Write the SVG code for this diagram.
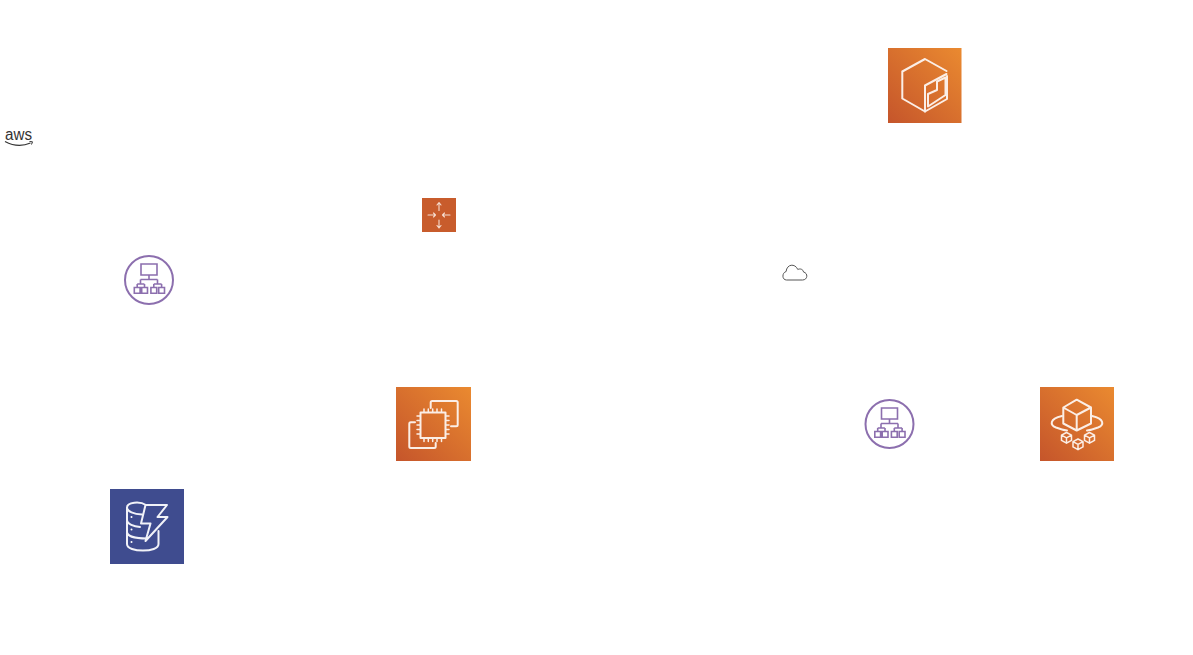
<svg xmlns="http://www.w3.org/2000/svg" width="1193" height="655" viewBox="0 0 1193 655">
<style>
.ln{fill:none;stroke:#fbeee6;stroke-width:2;stroke-linejoin:round;stroke-linecap:round}
.ln2{fill:none;stroke:#fbeee6;stroke-width:1.5;stroke-linejoin:round;stroke-linecap:round}
.ar{fill:none;stroke:#f6ddd0;stroke-width:1.1;stroke-linejoin:round;stroke-linecap:round}
.db{fill:none;stroke:#f1f2f8;stroke-width:2;stroke-linejoin:round;stroke-linecap:round}
.pu{fill:none;stroke:#8c6fae;stroke-width:2;stroke-linejoin:round}
.pu2{fill:none;stroke:#8c6fae;stroke-width:1.6;stroke-linejoin:miter}
</style>
<defs>
<linearGradient id="or" x1="0" y1="1" x2="1" y2="0"><stop offset="0" stop-color="#c5552b"/><stop offset="1" stop-color="#ea8a30"/></linearGradient>
<g id="alb">
<circle cx="149" cy="280" r="24" class="pu"/>
<path class="pu2" d="M141 264h16v11h-16zM149 275v4.500M140.500 279.500h17M140.500 279.500v4.500M157.500 279.500v4.500M137.200 284h7.200M153.800 284h7.800M137.200 284v3.500M144.500 284v3.500M153.800 284v3.500M161.600 284v3.500"/>
<path class="pu2" d="M134.300 287.500h5.800v5.800h-5.800zM141.700 287.500h5.800v5.800h-5.800zM150.900 287.500h5.800v5.800h-5.800zM158.700 287.500h5.800v5.800h-5.800z"/>
</g>
<g id="mini"><path class="ln2" d="M0 -5l5 2.700v5.200l-5 2.800l-5 -2.800v-5.200zM-5 -2.300l5 2.700l5 -2.700M0 .4v5.300"/></g>
</defs>
<g id="connectors"/>
<g id="aws-logo">
<text x="18.500" y="140" font-family="'Liberation Sans',Arial,sans-serif" font-size="16" fill="#333" text-anchor="middle" textLength="27" lengthAdjust="spacingAndGlyphs">aws</text>
<path d="M5 141.500Q18 148.500 30.500 143" fill="none" stroke="#333" stroke-width="1.200"/>
<path d="M29.500 141.500l3 .3l-1 2.700" fill="none" stroke="#333" stroke-width="1"/>
</g>
<g id="container-service">
<rect x="888" y="48" width="73.500" height="75" fill="url(#or)"/>
<path class="ln" d="M946.500 71L925 59L902.300 71.500V98.500L925 111.500V85.500L946.500 74"/>
<path class="ln" d="M925 111.500L947 99V76M928 106.500V94L937 90V81.500L945.500 77.500V95L928 106.500"/>
</g>
<g id="router">
<rect x="422" y="198" width="34" height="34" fill="#c85c2c"/>
<path class="ar" d="M439 202.500v8M437 205l2 -2.500l2 2.500M439 228v-8M437 225.500l2 2.500l2 -2.500M428 215h7.500M433.500 213l2 2l-2 2M450 215h-7.500M444.500 213l-2 2l2 2"/>
</g>
<g id="load-balancer-1"><use href="#alb"/></g>
<g id="cloud">
<path d="M786.500 280h16c5.300 0 5.800 -7 1 -8c-.3 -2.600 -3.300 -3.800 -5.700 -2.500c-2.800 -6.500 -11 -5.500 -11.700 2c-4.300 1.200 -4.300 8.500 .4 8.500z" fill="none" stroke="#555" stroke-width="1"/>
</g>
<g id="compute">
<rect x="396" y="387" width="75" height="74" fill="url(#or)"/>
<rect x="420.500" y="412.500" width="25" height="25.500" class="ln"/>
<path class="ln" d="M430.700 408V402.500Q430.700 401 432.200 401H456.200Q457.700 401 457.700 402.500V424.800Q457.700 426.300 456.200 426.300H451M415 422.300H410.800Q409.300 422.300 409.300 423.800V446.500Q409.300 448 410.800 448H434.200Q435.700 448 435.700 446.500V443"/>
<path class="ln2" d="M424 409v3M428.300 409v3M432.700 409v3M437 409v3M441.500 409v3M424 438.500v3M428.300 438.500v3M432.700 438.500v3M437 438.500v3M441.500 438.500v3M417 416h3M417 420.500h3M417 425h3M417 429.500h3M417 434h3M446 416h3M446 420.500h3M446 425h3M446 429.500h3M446 434h3"/>
</g>
<g id="load-balancer-2"><use href="#alb" x="740.500" y="144"/></g>
<g id="fargate">
<rect x="1040" y="387" width="74" height="74" fill="url(#or)"/>
<path class="ln" d="M1076.700 399.700L1091 407.500V423.500L1076.700 430.500L1063.300 423.500V407.500zM1063.300 407.500L1076.700 415L1091 407.500M1076.700 415V430.500"/>
<path class="ln" d="M1062 416C1049 419 1050 425 1056 427.500C1060 429 1063 430 1067 430.500M1087 430.500C1091 430 1094 429 1098 427.500C1104 425 1105 419 1092 416"/>
<use href="#mini" x="1066.500" y="437.500"/>
<use href="#mini" x="1078" y="444"/>
<use href="#mini" x="1089.500" y="437.500"/>
</g>
<g id="dynamodb">
<rect x="110" y="489" width="74" height="75" fill="#3f4c8f"/>
<path class="db" d="M146 505C140 501 127 502 127 507.500C127 511.500 134 514 142 514.500M127 507.500V544C127 548.500 135 550.500 143 550.500C151 550.500 158.500 548.500 158.500 544V531M127 520C127 524 134 526.500 140 527M127 532C127 536 135 538.500 147 538.500M158.500 533"/>
<path class="db" d="M145.500 505H167L157.500 517H167.500L145.500 541L150.500 523.500H141z"/>
<circle cx="131.500" cy="517" r="1" fill="#fff"/><circle cx="131.500" cy="529.500" r="1" fill="#fff"/><circle cx="131.500" cy="542" r="1" fill="#fff"/>
</g>
</svg>
